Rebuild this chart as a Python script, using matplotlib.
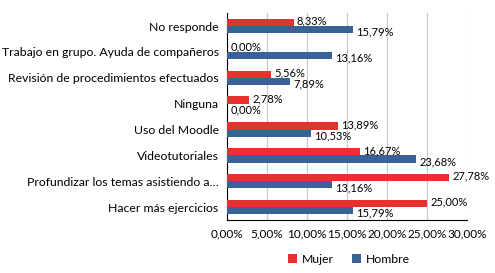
import numpy as np
import matplotlib.pyplot as plt

categories = ["No responde", "Trabajo en grupo. Ayuda de compañeros",
              "Revisión de procedimientos efectuados", "Ninguna", "Uso del Moodle",
              "Videotutoriales", "Profundizar los temas asistiendo a…",
              "Hacer más ejercicios"]
mujer = [8.33, 0.00, 5.56, 2.78, 13.89, 16.67, 27.78, 25.00]
hombre = [15.79, 13.16, 7.89, 0.00, 10.53, 23.68, 13.16, 15.79]
xticks = [0, 5, 10, 15, 20, 25, 30]

plt.rcParams['font.family'] = ['Lato', 'DejaVu Sans']

def fmt(v):
    return f"{v:.2f}%".replace(".", ",")

fig = plt.figure(figsize=(4.95, 2.73), dpi=100)
ax = fig.add_axes([0.4586, 0.194, 0.4848, 0.758])

y = np.arange(len(categories))
h = 0.28
red = "#E8302F"
blue = "#3A6297"
ax.barh(y - h / 2, mujer, height=h, color=red, label="Mujer", zorder=3)
ax.barh(y + h / 2, hombre, height=h, color=blue, label="Hombre", zorder=3)

for i in range(len(categories)):
    ax.text(mujer[i] + 0.4, y[i] - h / 2 - 0.05, fmt(mujer[i]), fontsize=8,
            va="center", ha="left", zorder=4)
    ax.text(hombre[i] + 0.4, y[i] + h / 2 + 0.1, fmt(hombre[i]), fontsize=8,
            va="center", ha="left", zorder=4)

ax.set_ylim(len(categories) - 0.5, -0.5)
ax.set_xlim(0, 30)
ax.set_yticks(y)
ax.set_yticklabels(categories, fontsize=8.8)
ax.set_xticks(xticks)
ax.set_xticklabels([fmt(v) for v in xticks], fontsize=8.5)
ax.tick_params(axis="both", length=0, pad=6)
ax.xaxis.grid(True, color="#C8C8C8", linewidth=0.8, zorder=0)
for s in ["top", "right"]:
    ax.spines[s].set_visible(False)
ax.spines["left"].set_color("black")
ax.spines["bottom"].set_color("black")

fig.legend(loc="lower center", bbox_to_anchor=(0.705, -0.01), ncol=2, frameon=False,
           fontsize=8.8, handlelength=0.7, handleheight=0.7, columnspacing=1.5,
           handletextpad=0.4)

fig.savefig("out.png", dpi=100)
